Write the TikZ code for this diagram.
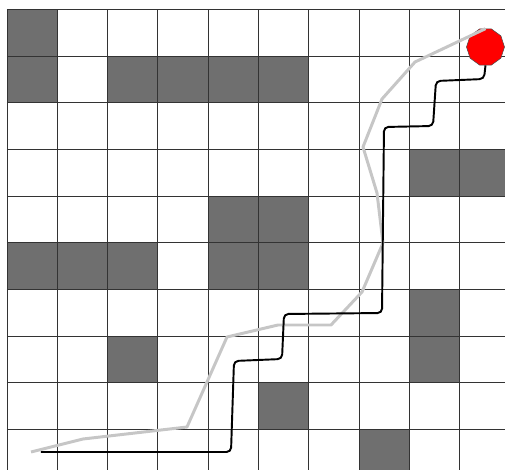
\documentclass[tikz,border=0pt]{standalone}
\usepackage{tikz}
\usetikzlibrary{shapes.geometric}
\definecolor{wall}{HTML}{6F6F6F}
\definecolor{rough}{HTML}{C6C6C6}
\tikzset{cellline/.style={draw=black!80,line width=0.5pt},obst/.style={fill=wall},rawpath/.style={draw=rough,line width=1.7pt,line join=round},route/.style={draw=black,line width=1.1pt,rounded corners=2.5pt},goal/.style={regular polygon,regular polygon sides=10,minimum size=0.76cm,inner sep=0pt,fill=red,draw=black!70,line width=0.3pt}}

\begin{document}
\begin{tikzpicture}[x=0.02cm,y=-0.02cm]
\useasboundingbox (0,0) rectangle (505,470);
\clip (0,0) rectangle (505,470);
% blocked cells (column/row, row 0 at the top)
\foreach \c/\r in {0/0,0/1,2/1,3/1,4/1,5/1,8/3,9/3,4/4,5/4,0/5,1/5,2/5,4/5,5/5,8/6,2/7,8/7,5/8,7/9}
  \fill[obst] ({7+50.3*\c},{9.3+46.7*\r}) rectangle ++(50.3,46.7);
% grid
\foreach \i in {0,...,10}{
  \draw[cellline] ({7+50.3*\i},9.3) -- ++(0,470);
  \draw[cellline] (7,{9.3+46.7*\i}) -- ++(505,0);
}
\node[goal] (g) at (485.5,47) {};
\coordinate (s1) at (31,452);
\coordinate (s2) at (41,452);
% first path
\draw[rawpath] (s1) -- (83,439) -- (187,427) -- (227,337) -- (278,325) -- (331,325) -- (362,292) -- (383,243) -- (377,193) -- (363,147) -- (382,99) -- (415,62) -- (g.north);
% smoothed path
\draw[route] (s2) -- (231,452) -- (234,361) -- (282,359) -- (284,314) -- (382,313) -- (384,127) -- (433,126) -- (436,81) -- (484,79) -- (g.south);
\end{tikzpicture}
\end{document}
